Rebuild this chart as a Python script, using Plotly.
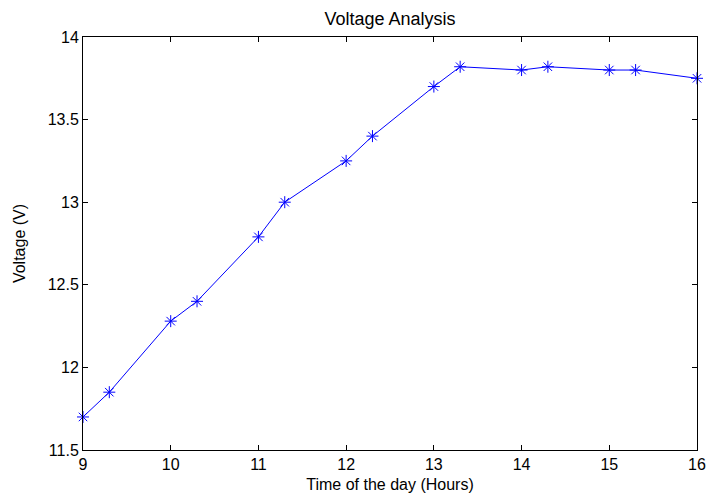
import plotly.graph_objects as go

hours = [9, 9.3, 10, 10.3, 11, 11.3, 12, 12.3, 13, 13.3, 14, 14.3, 15, 15.3, 16]
voltage = [11.70, 11.85, 12.28, 12.40, 12.79, 13.00, 13.25, 13.40, 13.70, 13.82, 13.80, 13.82, 13.80, 13.80, 13.75]
x_ticks = [9, 10, 11, 12, 13, 14, 15, 16]
y_ticks = [11.5, 12, 12.5, 13, 13.5, 14]

FAM = "Liberation Sans, Arial, sans-serif"

fig = go.Figure()
fig.add_trace(go.Scatter(
    x=hours, y=voltage, mode="lines+markers",
    line=dict(color="#0000ff", width=1),
    marker=dict(symbol="asterisk-open", size=10, color="#0000ff", line=dict(color="#0000ff", width=1)),
    showlegend=False, cliponaxis=False,
))

font = dict(family=FAM, size=16, color="black")
axis_common = dict(
    showline=True, linecolor="black", linewidth=1, mirror="ticks",
    ticks="inside", ticklen=5, tickcolor="black", tickwidth=1,
    showgrid=False, zeroline=False, tickfont=font,
)
fig.update_layout(
    width=707, height=493,
    margin=dict(l=83, r=10, t=37, b=43),
    paper_bgcolor="white", plot_bgcolor="white",
    font=font,
    title=dict(text="Voltage Analysis", xref="paper", x=0.5, xanchor="center",
               yref="container", y=0.963, yanchor="middle",
               font=dict(family=FAM, size=18, color="black")),
    xaxis=dict(range=[9, 16], tickvals=x_ticks, ticktext=[str(v) for v in x_ticks],
               title=dict(text="Time of the day (Hours)", standoff=7,
                          font=dict(family=FAM, size=16, color="black")),
               automargin=False, **axis_common),
    yaxis=dict(range=[11.5, 14], tickvals=y_ticks, ticktext=["11.5", "12", "12.5", "13", "13.5", "14"],
               title=dict(text="Voltage (V)", standoff=18,
                          font=dict(family=FAM, size=16, color="black")),
               automargin=False, **axis_common),
)
fig.write_html("out.html", config={"displayModeBar": False},
               post_script="document.body.style.margin='0';document.body.style.overflow='hidden';")
